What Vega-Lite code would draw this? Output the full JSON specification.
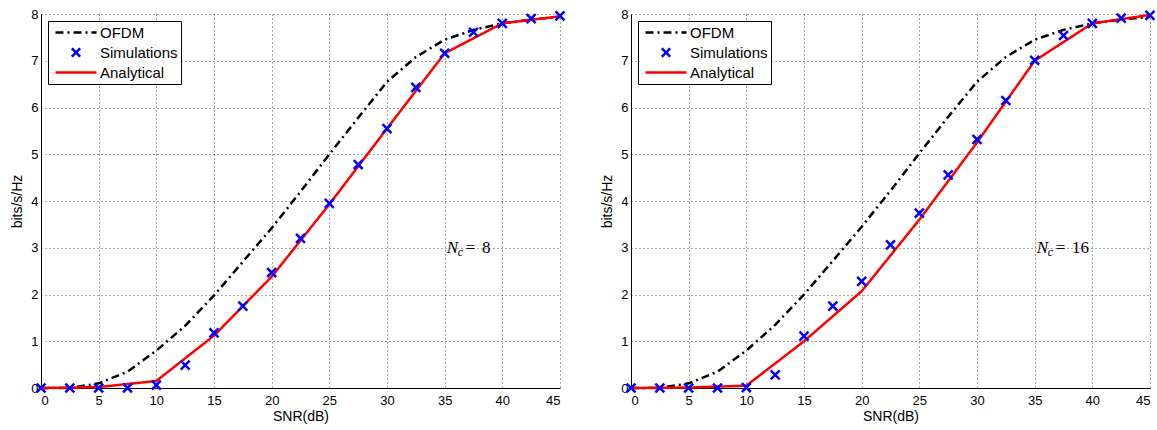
{
  "$schema": "https://vega.github.io/schema/vega-lite/v6.json",
  "background": "white",
  "padding": {"left": 10, "top": 5, "right": 0, "bottom": 5},
  "datasets": {
    "curves": [
      {"panel": "a", "series": "OFDM", "x": 0, "y": 0},
      {"panel": "a", "series": "OFDM", "x": 2.5, "y": 0.0},
      {"panel": "a", "series": "OFDM", "x": 5, "y": 0.1},
      {"panel": "a", "series": "OFDM", "x": 7.5, "y": 0.35},
      {"panel": "a", "series": "OFDM", "x": 10, "y": 0.8},
      {"panel": "a", "series": "OFDM", "x": 12.5, "y": 1.33},
      {"panel": "a", "series": "OFDM", "x": 15, "y": 1.98},
      {"panel": "a", "series": "OFDM", "x": 17.5, "y": 2.7},
      {"panel": "a", "series": "OFDM", "x": 20, "y": 3.42},
      {"panel": "a", "series": "OFDM", "x": 22.5, "y": 4.2},
      {"panel": "a", "series": "OFDM", "x": 25, "y": 5.0},
      {"panel": "a", "series": "OFDM", "x": 27.5, "y": 5.78},
      {"panel": "a", "series": "OFDM", "x": 30, "y": 6.55},
      {"panel": "a", "series": "OFDM", "x": 32.5, "y": 7.08},
      {"panel": "a", "series": "OFDM", "x": 35, "y": 7.45},
      {"panel": "a", "series": "OFDM", "x": 37.5, "y": 7.66},
      {"panel": "a", "series": "OFDM", "x": 40, "y": 7.8},
      {"panel": "a", "series": "OFDM", "x": 42.5, "y": 7.88},
      {"panel": "a", "series": "OFDM", "x": 45, "y": 7.94},
      {"panel": "a", "series": "Analytical", "x": 0, "y": 0},
      {"panel": "a", "series": "Analytical", "x": 5, "y": 0.02},
      {"panel": "a", "series": "Analytical", "x": 10, "y": 0.15},
      {"panel": "a", "series": "Analytical", "x": 15, "y": 1.12},
      {"panel": "a", "series": "Analytical", "x": 20, "y": 2.38},
      {"panel": "a", "series": "Analytical", "x": 25, "y": 3.93},
      {"panel": "a", "series": "Analytical", "x": 30, "y": 5.55},
      {"panel": "a", "series": "Analytical", "x": 35, "y": 7.16},
      {"panel": "a", "series": "Analytical", "x": 40, "y": 7.8},
      {"panel": "a", "series": "Analytical", "x": 45, "y": 7.95},
      {"panel": "b", "series": "OFDM", "x": 0, "y": 0},
      {"panel": "b", "series": "OFDM", "x": 2.5, "y": 0.0},
      {"panel": "b", "series": "OFDM", "x": 5, "y": 0.1},
      {"panel": "b", "series": "OFDM", "x": 7.5, "y": 0.35},
      {"panel": "b", "series": "OFDM", "x": 10, "y": 0.8},
      {"panel": "b", "series": "OFDM", "x": 12.5, "y": 1.35},
      {"panel": "b", "series": "OFDM", "x": 15, "y": 2.0},
      {"panel": "b", "series": "OFDM", "x": 17.5, "y": 2.72},
      {"panel": "b", "series": "OFDM", "x": 20, "y": 3.45},
      {"panel": "b", "series": "OFDM", "x": 22.5, "y": 4.22},
      {"panel": "b", "series": "OFDM", "x": 25, "y": 5.02},
      {"panel": "b", "series": "OFDM", "x": 27.5, "y": 5.8},
      {"panel": "b", "series": "OFDM", "x": 30, "y": 6.55},
      {"panel": "b", "series": "OFDM", "x": 32.5, "y": 7.08},
      {"panel": "b", "series": "OFDM", "x": 35, "y": 7.45},
      {"panel": "b", "series": "OFDM", "x": 37.5, "y": 7.66},
      {"panel": "b", "series": "OFDM", "x": 40, "y": 7.8},
      {"panel": "b", "series": "OFDM", "x": 42.5, "y": 7.88},
      {"panel": "b", "series": "OFDM", "x": 45, "y": 7.94},
      {"panel": "b", "series": "Analytical", "x": 0, "y": 0},
      {"panel": "b", "series": "Analytical", "x": 5, "y": 0.01},
      {"panel": "b", "series": "Analytical", "x": 10, "y": 0.05},
      {"panel": "b", "series": "Analytical", "x": 15, "y": 1.0},
      {"panel": "b", "series": "Analytical", "x": 20, "y": 2.07},
      {"panel": "b", "series": "Analytical", "x": 25, "y": 3.6},
      {"panel": "b", "series": "Analytical", "x": 30, "y": 5.25},
      {"panel": "b", "series": "Analytical", "x": 35, "y": 7.0},
      {"panel": "b", "series": "Analytical", "x": 40, "y": 7.8},
      {"panel": "b", "series": "Analytical", "x": 45, "y": 7.98}
    ],
    "sims": [
      {"panel": "a", "series": "Simulations", "x": 0, "y": 0},
      {"panel": "a", "series": "Simulations", "x": 2.5, "y": 0},
      {"panel": "a", "series": "Simulations", "x": 5, "y": 0},
      {"panel": "a", "series": "Simulations", "x": 7.5, "y": 0},
      {"panel": "a", "series": "Simulations", "x": 10, "y": 0.06},
      {"panel": "a", "series": "Simulations", "x": 12.5, "y": 0.49},
      {"panel": "a", "series": "Simulations", "x": 15, "y": 1.18},
      {"panel": "a", "series": "Simulations", "x": 17.5, "y": 1.75},
      {"panel": "a", "series": "Simulations", "x": 20, "y": 2.47},
      {"panel": "a", "series": "Simulations", "x": 22.5, "y": 3.2},
      {"panel": "a", "series": "Simulations", "x": 25, "y": 3.95},
      {"panel": "a", "series": "Simulations", "x": 27.5, "y": 4.78},
      {"panel": "a", "series": "Simulations", "x": 30, "y": 5.55},
      {"panel": "a", "series": "Simulations", "x": 32.5, "y": 6.43},
      {"panel": "a", "series": "Simulations", "x": 35, "y": 7.16},
      {"panel": "a", "series": "Simulations", "x": 37.5, "y": 7.61},
      {"panel": "a", "series": "Simulations", "x": 40, "y": 7.8},
      {"panel": "a", "series": "Simulations", "x": 42.5, "y": 7.9},
      {"panel": "a", "series": "Simulations", "x": 45, "y": 7.96},
      {"panel": "b", "series": "Simulations", "x": 0, "y": 0},
      {"panel": "b", "series": "Simulations", "x": 2.5, "y": 0},
      {"panel": "b", "series": "Simulations", "x": 5, "y": 0},
      {"panel": "b", "series": "Simulations", "x": 7.5, "y": 0},
      {"panel": "b", "series": "Simulations", "x": 10, "y": 0.01},
      {"panel": "b", "series": "Simulations", "x": 12.5, "y": 0.28},
      {"panel": "b", "series": "Simulations", "x": 15, "y": 1.11},
      {"panel": "b", "series": "Simulations", "x": 17.5, "y": 1.75},
      {"panel": "b", "series": "Simulations", "x": 20, "y": 2.28},
      {"panel": "b", "series": "Simulations", "x": 22.5, "y": 3.06},
      {"panel": "b", "series": "Simulations", "x": 25, "y": 3.74},
      {"panel": "b", "series": "Simulations", "x": 27.5, "y": 4.56},
      {"panel": "b", "series": "Simulations", "x": 30, "y": 5.32},
      {"panel": "b", "series": "Simulations", "x": 32.5, "y": 6.15},
      {"panel": "b", "series": "Simulations", "x": 35, "y": 7.01},
      {"panel": "b", "series": "Simulations", "x": 37.5, "y": 7.54},
      {"panel": "b", "series": "Simulations", "x": 40, "y": 7.8},
      {"panel": "b", "series": "Simulations", "x": 42.5, "y": 7.91},
      {"panel": "b", "series": "Simulations", "x": 45, "y": 7.97}
    ],
    "notes": [
      {"panel": "a", "x": 35, "y": 3, "n": "N", "c": "c", "rest": "=\u2009\u20098"},
      {"panel": "b", "x": 35, "y": 3, "n": "N", "c": "c", "rest": "=\u2009\u200916"}
    ]
  },
  "hconcat": [
    {
      "width": 519,
      "height": 374,
      "layer": [
        {
          "data": {"name": "curves"},
          "transform": [{"filter": "datum.panel === 'a'"}],
          "mark": {"type": "line", "strokeWidth": 2.5},
          "encoding": {
            "x": {"field": "x", "type": "quantitative", "scale": {"domain": [0, 45], "nice": false}, "axis": {"values": [0,5,10,15,20,25,30,35,40,45], "title": "SNR(dB)"}},
            "y": {"field": "y", "type": "quantitative", "scale": {"domain": [0, 8], "nice": false}, "axis": {"values": [0,1,2,3,4,5,6,7,8], "title": "bits/s/Hz"}},
            "color": {"field": "series", "type": "nominal", "scale": {"domain": ["OFDM", "Simulations", "Analytical"], "range": ["#000000", "#0000ff", "#ff0000"]},
              "legend": {"encode": {"symbols": {"update": {
                "shape": {"signal": "datum.value === 'Simulations' ? 'M-0.6,-0.6L0.6,0.6M-0.6,0.6L0.6,-0.6' : 'M-2.93,0H2.93'"},
                "strokeDash": {"signal": "datum.value === 'OFDM' ? [8, 4, 2, 4] : [1, 0]"},
                "x": {"signal": "25"}
              }}}}},
            "strokeDash": {"field": "series", "type": "nominal", "scale": {"domain": ["OFDM", "Analytical"], "range": [[8, 4, 2, 4], [1, 0]]}, "legend": null}
          }
        },
        {
          "data": {"name": "sims"},
          "transform": [{"filter": "datum.panel === 'a'"}],
          "mark": {"type": "point", "shape": "M-1,-1L1,1M-1,1L1,-1", "filled": false, "strokeWidth": 2.5, "size": 80, "opacity": 1},
          "encoding": {
            "x": {"field": "x", "type": "quantitative"},
            "y": {"field": "y", "type": "quantitative"},
            "color": {"field": "series", "type": "nominal"}
          }
        },
        {
          "data": {"name": "notes"},
          "transform": [{"filter": "datum.panel === 'a'"}],
          "mark": {"type": "text", "font": "Liberation Serif", "fontStyle": "italic", "fontSize": 17, "align": "left", "baseline": "middle", "dx": 2, "color": "black"},
          "encoding": {"x": {"field": "x", "type": "quantitative"}, "y": {"field": "y", "type": "quantitative"}, "text": {"field": "n"}}
        },
        {
          "data": {"name": "notes"},
          "transform": [{"filter": "datum.panel === 'a'"}],
          "mark": {"type": "text", "font": "Liberation Serif", "fontStyle": "italic", "fontSize": 12, "align": "left", "baseline": "middle", "dx": 13, "dy": 4, "color": "black"},
          "encoding": {"x": {"field": "x", "type": "quantitative"}, "y": {"field": "y", "type": "quantitative"}, "text": {"field": "c"}}
        },
        {
          "data": {"name": "notes"},
          "transform": [{"filter": "datum.panel === 'a'"}],
          "mark": {"type": "text", "font": "Liberation Serif", "fontSize": 17, "align": "left", "baseline": "middle", "dx": 21, "color": "black"},
          "encoding": {"x": {"field": "x", "type": "quantitative"}, "y": {"field": "y", "type": "quantitative"}, "text": {"field": "rest"}}
        }
      ]
    },
    {
      "width": 519,
      "height": 374,
      "layer": [
        {
          "data": {"name": "curves"},
          "transform": [{"filter": "datum.panel === 'b'"}],
          "mark": {"type": "line", "strokeWidth": 2.5},
          "encoding": {
            "x": {"field": "x", "type": "quantitative", "scale": {"domain": [0, 45], "nice": false}, "axis": {"values": [0,5,10,15,20,25,30,35,40,45], "title": "SNR(dB)"}},
            "y": {"field": "y", "type": "quantitative", "scale": {"domain": [0, 8], "nice": false}, "axis": {"values": [0,1,2,3,4,5,6,7,8], "title": "bits/s/Hz"}},
            "color": {"field": "series", "type": "nominal", "scale": {"domain": ["OFDM", "Simulations", "Analytical"], "range": ["#000000", "#0000ff", "#ff0000"]},
              "legend": {"encode": {"symbols": {"update": {
                "shape": {"signal": "datum.value === 'Simulations' ? 'M-0.6,-0.6L0.6,0.6M-0.6,0.6L0.6,-0.6' : 'M-2.93,0H2.93'"},
                "strokeDash": {"signal": "datum.value === 'OFDM' ? [8, 4, 2, 4] : [1, 0]"},
                "x": {"signal": "25"}
              }}}}},
            "strokeDash": {"field": "series", "type": "nominal", "scale": {"domain": ["OFDM", "Analytical"], "range": [[8, 4, 2, 4], [1, 0]]}, "legend": null}
          }
        },
        {
          "data": {"name": "sims"},
          "transform": [{"filter": "datum.panel === 'b'"}],
          "mark": {"type": "point", "shape": "M-1,-1L1,1M-1,1L1,-1", "filled": false, "strokeWidth": 2.5, "size": 80, "opacity": 1},
          "encoding": {
            "x": {"field": "x", "type": "quantitative"},
            "y": {"field": "y", "type": "quantitative"},
            "color": {"field": "series", "type": "nominal"}
          }
        },
        {
          "data": {"name": "notes"},
          "transform": [{"filter": "datum.panel === 'b'"}],
          "mark": {"type": "text", "font": "Liberation Serif", "fontStyle": "italic", "fontSize": 17, "align": "left", "baseline": "middle", "dx": 2, "color": "black"},
          "encoding": {"x": {"field": "x", "type": "quantitative"}, "y": {"field": "y", "type": "quantitative"}, "text": {"field": "n"}}
        },
        {
          "data": {"name": "notes"},
          "transform": [{"filter": "datum.panel === 'b'"}],
          "mark": {"type": "text", "font": "Liberation Serif", "fontStyle": "italic", "fontSize": 12, "align": "left", "baseline": "middle", "dx": 13, "dy": 4, "color": "black"},
          "encoding": {"x": {"field": "x", "type": "quantitative"}, "y": {"field": "y", "type": "quantitative"}, "text": {"field": "c"}}
        },
        {
          "data": {"name": "notes"},
          "transform": [{"filter": "datum.panel === 'b'"}],
          "mark": {"type": "text", "font": "Liberation Serif", "fontSize": 17, "align": "left", "baseline": "middle", "dx": 21, "color": "black"},
          "encoding": {"x": {"field": "x", "type": "quantitative"}, "y": {"field": "y", "type": "quantitative"}, "text": {"field": "rest"}}
        }
      ]
    }
  ],
  "spacing": 30,
  "resolve": {"scale": {"color": "independent", "strokeDash": "independent", "x": "independent", "y": "independent"}, "legend": {"color": "independent"}},
  "config": {
    "view": {"stroke": null},
    "axis": {
      "domainColor": "#000000",
      "domainWidth": 1,
      "ticks": false,
      "labelColor": "#000000",
      "labelFont": "Liberation Sans",
      "labelFontSize": 13,
      "titleFont": "Liberation Sans",
      "titleFontSize": 14,
      "titleFontWeight": "normal",
      "titleColor": "#000000",
      "grid": true,
      "gridColor": "#555555",
      "gridDash": [1, 3],
      "gridWidth": 1
    },
    "axisX": {"titlePadding": 2, "labelPadding": 6},
    "axisY": {"titlePadding": 6, "labelPadding": 3},
    "legend": {
      "orient": "top-left",
      "offset": 7,
      "title": null,
      "strokeColor": "#000000",
      "fillColor": "#ffffff",
      "padding": 3,
      "labelFont": "Liberation Sans",
      "labelFontSize": 15,
      "labelColor": "#000000",
      "labelOffset": 32,
      "rowPadding": 2,
      "symbolType": "stroke",
      "symbolSize": 196,
      "symbolStrokeWidth": 2.5,
      "symbolOpacity": 1,
      "symbolFillColor": "transparent"
    }
  }
}
